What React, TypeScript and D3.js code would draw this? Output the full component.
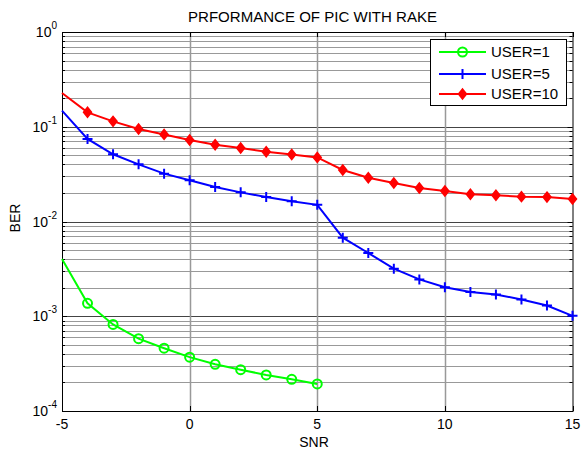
import * as d3 from "d3";
import React, { useEffect, useRef } from "react";

const snr = [-5, -4, -3, -2, -1, 0, 1, 2, 3, 4, 5, 6, 7, 8, 9, 10, 11, 12, 13, 14, 15];
const user1 = [0.00402, 0.00137, 0.00082, 0.00058, 0.00046, 0.00037, 0.000311, 0.000273, 0.00024, 0.000216, 0.000193];
const user5 = [0.148, 0.0743, 0.0512, 0.0401, 0.032, 0.0272, 0.0231, 0.0203, 0.0181, 0.0164, 0.015, 0.00675, 0.00465, 0.00318, 0.00245, 0.00202, 0.0018, 0.0017, 0.0015, 0.0013, 0.00101];
const user10 = [0.227, 0.142, 0.114, 0.0946, 0.083, 0.0724, 0.0645, 0.0597, 0.0545, 0.051, 0.0475, 0.035, 0.029, 0.0255, 0.0226, 0.021, 0.0194, 0.0189, 0.0183, 0.0181, 0.0173];
const xTicks = [-5, 0, 5, 10, 15];
const yExps = [0, -1, -2, -3, -4];
const legendLabels = ["USER=1", "USER=5", "USER=10"];

const W = 581;
const H = 451;
const margin = { left: 62, right: 8, top: 32, bottom: 40 };

const App = () => {
  const ref = useRef<SVGSVGElement>(null);

  useEffect(() => {
    const svg = d3.select(ref.current);
    svg.selectAll("*").remove();
    const font = "Liberation Sans, Arial, sans-serif";

    const x = d3.scaleLinear().domain([-5, 15]).range([margin.left, W - margin.right - 0.5]);
    const y = d3.scaleLog().domain([1e-4, 1]).range([H - margin.bottom, margin.top]);
    const [x0, x1] = x.range();
    const [y1, y0] = y.range();

    svg.append("rect").attr("width", W).attr("height", H).attr("fill", "#fff");

    function isDecade(v: number) {
      const l = Math.log10(v);
      return Math.abs(l - Math.round(l)) < 1e-6;
    }

    // grid
    const grid = svg.append("g").attr("stroke", "#999").attr("stroke-width", 1);
    const minor: number[] = [];
    yExps.slice(1).forEach((e) => {
      for (let k = 1; k <= 9; k++) minor.push(k * Math.pow(10, e));
    });
    minor.forEach((v) => {
      const yy = Math.round(y(v)) + 0.5;
      grid.append("line").attr("x1", x0).attr("x2", x1).attr("y1", yy).attr("y2", yy)
        .attr("stroke", isDecade(v) ? "#444" : "#999");
    });
    xTicks.slice(1, -1).forEach((t) => {
      const xx = Math.round(x(t)) + 0.5;
      grid.append("line").attr("x1", xx).attr("x2", xx).attr("y1", y0).attr("y2", y1)
        .attr("stroke", "#999").attr("stroke-width", 1.5);
    });

    // ticks
    const ticks = svg.append("g").attr("stroke", "#000");
    minor.forEach((v) => {
      const yy = Math.round(y(v)) + 0.5;
      const len = isDecade(v) ? 5 : 3;
      ticks.append("line").attr("x1", x0).attr("x2", x0 + len).attr("y1", yy).attr("y2", yy);
      ticks.append("line").attr("x1", x1).attr("x2", x1 - len).attr("y1", yy).attr("y2", yy);
    });
    xTicks.forEach((t) => {
      const xx = Math.round(x(t)) + 0.5;
      ticks.append("line").attr("x1", xx).attr("x2", xx).attr("y1", y1).attr("y2", y1 - 5);
      ticks.append("line").attr("x1", xx).attr("x2", xx).attr("y1", y0).attr("y2", y0 + 5);
    });

    // box
    svg.append("rect").attr("x", x0 + 0.5).attr("y", y0 + 0.5)
      .attr("width", x1 - x0).attr("height", y1 - y0)
      .attr("fill", "none").attr("stroke", "#000").attr("stroke-width", 1);

    // tick labels
    xTicks.forEach((t) => {
      svg.append("text").attr("x", x(t)).attr("y", y1 + 18).attr("text-anchor", "middle")
        .attr("font-family", font).attr("font-size", 14).text(t);
    });
    yExps.forEach((e) => {
      const tx = svg.append("text").attr("x", x0 - 5).attr("y", y(Math.pow(10, e)) + 5)
        .attr("text-anchor", "end").attr("font-family", font).attr("font-size", 14);
      tx.append("tspan").text("10");
      tx.append("tspan").attr("dy", -8).attr("font-size", 10).text(String(e));
    });

    // titles
    svg.append("text").attr("x", 188).attr("y", 22)
      .attr("textLength", 249).attr("lengthAdjust", "spacingAndGlyphs")
      .attr("font-family", font).attr("font-size", 14).text("PRFORMANCE OF PIC WITH RAKE");
    svg.append("text").attr("x", 314).attr("y", 447).attr("text-anchor", "middle")
      .attr("font-family", font).attr("font-size", 14).text("SNR");
    svg.append("text").attr("transform", `translate(20,218) rotate(-90)`)
      .attr("text-anchor", "middle").attr("font-family", font).attr("font-size", 14).text("BER");

    const series = [
      { vals: user1, color: "#00ff00", marker: "circle" },
      { vals: user5, color: "#0000ff", marker: "plus" },
      { vals: user10, color: "#ff0000", marker: "diamond" },
    ];
    const line = d3.line<[number, number]>().x((d) => x(d[0])).y((d) => y(d[1]));

    const drawMarker = (g: any, kind: string, cx: number, cy: number, color: string) => {
      if (kind === "circle") {
        g.append("circle").attr("cx", cx).attr("cy", cy).attr("r", 4.5)
          .attr("fill", "none").attr("stroke", color).attr("stroke-width", 2);
      } else if (kind === "plus") {
        g.append("path").attr("d", `M${cx - 5},${cy}H${cx + 5}M${cx},${cy - 5}V${cy + 5}`)
          .attr("stroke", color).attr("stroke-width", 2);
      } else {
        g.append("path")
          .attr("d", `M${cx},${cy - 5}L${cx + 4},${cy}L${cx},${cy + 5}L${cx - 4},${cy}Z`)
          .attr("fill", color).attr("stroke", color).attr("stroke-width", 1.5);
      }
    };

    series.forEach((s) => {
      const pts: [number, number][] = s.vals.map((v, i) => [snr[i], v]);
      const g = svg.append("g");
      g.append("path").attr("d", line(pts)).attr("fill", "none")
        .attr("stroke", s.color).attr("stroke-width", 2);
      pts.slice(1).forEach((p) => drawMarker(g, s.marker, x(p[0]), y(p[1]), s.color));
    });

    // legend
    const lg = svg.append("g");
    lg.append("rect").attr("x", 430.5).attr("y", 39.5).attr("width", 136).attr("height", 66)
      .attr("fill", "#fff").attr("stroke", "#000").attr("stroke-width", 1);
    [52, 74, 94].forEach((ly, i) => {
      const s = series[i];
      lg.append("line").attr("x1", 439).attr("x2", 486).attr("y1", ly).attr("y2", ly)
        .attr("stroke", s.color).attr("stroke-width", 2);
      drawMarker(lg, s.marker, 462.5, ly, s.color);
      lg.append("text").attr("x", 491).attr("y", ly + 5).attr("font-family", font)
        .attr("font-size", 15).text(legendLabels[i]);
    });
  }, []);

  return (
    <div style={{ position: "absolute", left: 0, top: 0 }}>
      <svg ref={ref} width={W} height={H} style={{ display: "block" }} />
    </div>
  );
};

export default App;
